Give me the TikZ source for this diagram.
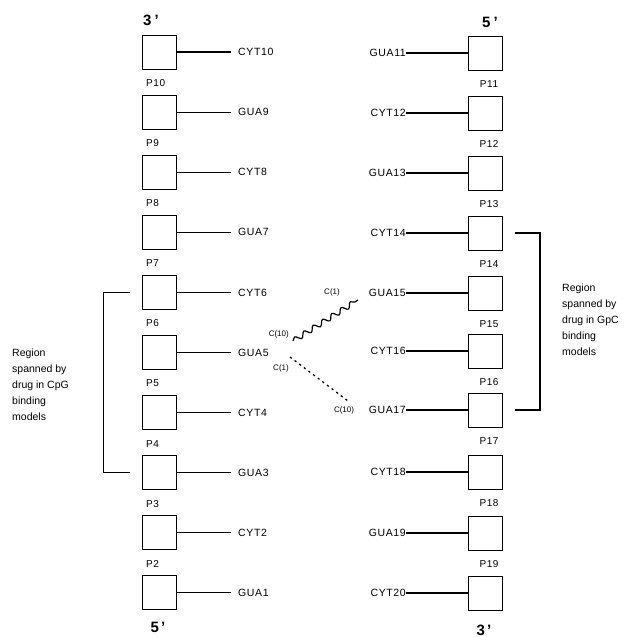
\documentclass[tikz,border=0pt]{standalone}
\usepackage{fontspec}
\setmainfont{Liberation Sans}
\newfontfamily\labfont[LetterSpace=6]{Liberation Sans}
\usetikzlibrary{decorations.pathmorphing}
\begin{document}
\begin{tikzpicture}[x=1pt,y=-1pt,
  base/.style={draw, line width=1pt, minimum width=34pt, minimum height=34pt, inner sep=0pt},
  lab/.style={font=\labfont\fontsize{10.5}{12}\selectfont, inner sep=0pt},
  plab/.style={font=\labfont\fontsize{10}{12}\selectfont, inner sep=0pt},
  endlab/.style={font=\bfseries\fontsize{15}{16}\selectfont, inner sep=0pt},
  clab/.style={font=\fontsize{8}{9}\selectfont, inner sep=0pt},
  regtext/.style={font=\fontsize{10.5}{16}\selectfont, align=left, inner sep=0pt},
  bond/.style={line width=1.1pt},
  wavy/.style={line width=1.2pt, decorate, decoration={snake, segment length=11pt, amplitude=2.6pt}},
  dotline/.style={line width=1.3pt, dash pattern=on 2.2pt off 3.6pt},
]
\useasboundingbox (0,0) rectangle (643,637);

% left strand
\foreach \i/\t in {0/CYT10, 1/GUA9, 2/CYT8, 3/GUA7, 4/CYT6, 5/GUA5, 6/CYT4, 7/GUA3, 8/CYT2, 9/GUA1} {
  \node[base] (L\i) at (159, {52+60.1*\i}) {};
  \node[lab, anchor=west] (LT\i) at (238, {52+60.1*\i}) {\t};
  \draw[bond] (L\i.east) -- ([xshift=-7pt]LT\i.west);
}
\foreach \i/\p in {0/P10, 1/P9, 2/P8, 3/P7, 4/P6, 5/P5, 6/P4, 7/P3, 8/P2} {
  \node[plab, anchor=west] (LP\i) at (146, {52+60.1*\i+31}) {\p};
}

% right strand
\foreach \i/\y/\t in {0/53/GUA11, 1/113/CYT12, 2/173/GUA13, 3/233/CYT14, 4/293/GUA15, 5/351/CYT16, 6/410/GUA17, 7/472/CYT18, 8/533/GUA19, 9/593/CYT20} {
  \node[base] (R\i) at (485.5, \y) {};
  \node[lab, anchor=east] (RT\i) at (406, \y) {\t};
  \draw[bond] (RT\i.east) -- (R\i.west);
}
\foreach \i/\y/\p in {0/53/P11, 1/113/P12, 2/173/P13, 3/233/P14, 4/293/P15, 5/351/P16, 6/410/P17, 7/472/P18, 8/533/P19} {
  \node[plab] (RP\i) at (489, {\y+31}) {\p};
}

% strand ends
\node[endlab] (e1) at (151, 20) {3\hspace{3pt}'};
\node[endlab] (e2) at (490, 22) {5\hspace{3pt}'};
\node[endlab] (e3) at (158, 627) {5\hspace{2pt}'};
\node[endlab] (e4) at (484, 630) {3\hspace{2pt}'};

% brackets
\draw[bond] ([xshift=-12pt]L4.west) -- ++(-26,0) |- ([xshift=-12pt]L7.west);
\draw[bond] ([xshift=12pt]R3.east) -- ++(25,0) |- ([xshift=12pt]R6.east);

\node[regtext, anchor=west] (regL) at (12, 385) {Region\\spanned by\\drug in CpG\\binding\\models};
\node[regtext, anchor=west] (regR) at (562, 320) {Region\\spanned by\\drug in GpC\\binding\\models};

% drug connections
\coordinate (w1) at (293, 341);
\coordinate (w2) at (358, 300);
\draw[wavy] (w1) -- (w2);
\node[clab, anchor=east] (c10a) at (289, 334) {C(10)};
\node[clab] (c1a) at (332, 292) {C(1)};

\coordinate (d1) at (290, 357);
\coordinate (d2) at (348, 401);
\draw[dotline] (d1) -- (d2);
\node[clab, anchor=east] (c1b) at (289, 368) {C(1)};
\node[clab] (c10b) at (344, 410) {C(10)};
\end{tikzpicture}
\end{document}
